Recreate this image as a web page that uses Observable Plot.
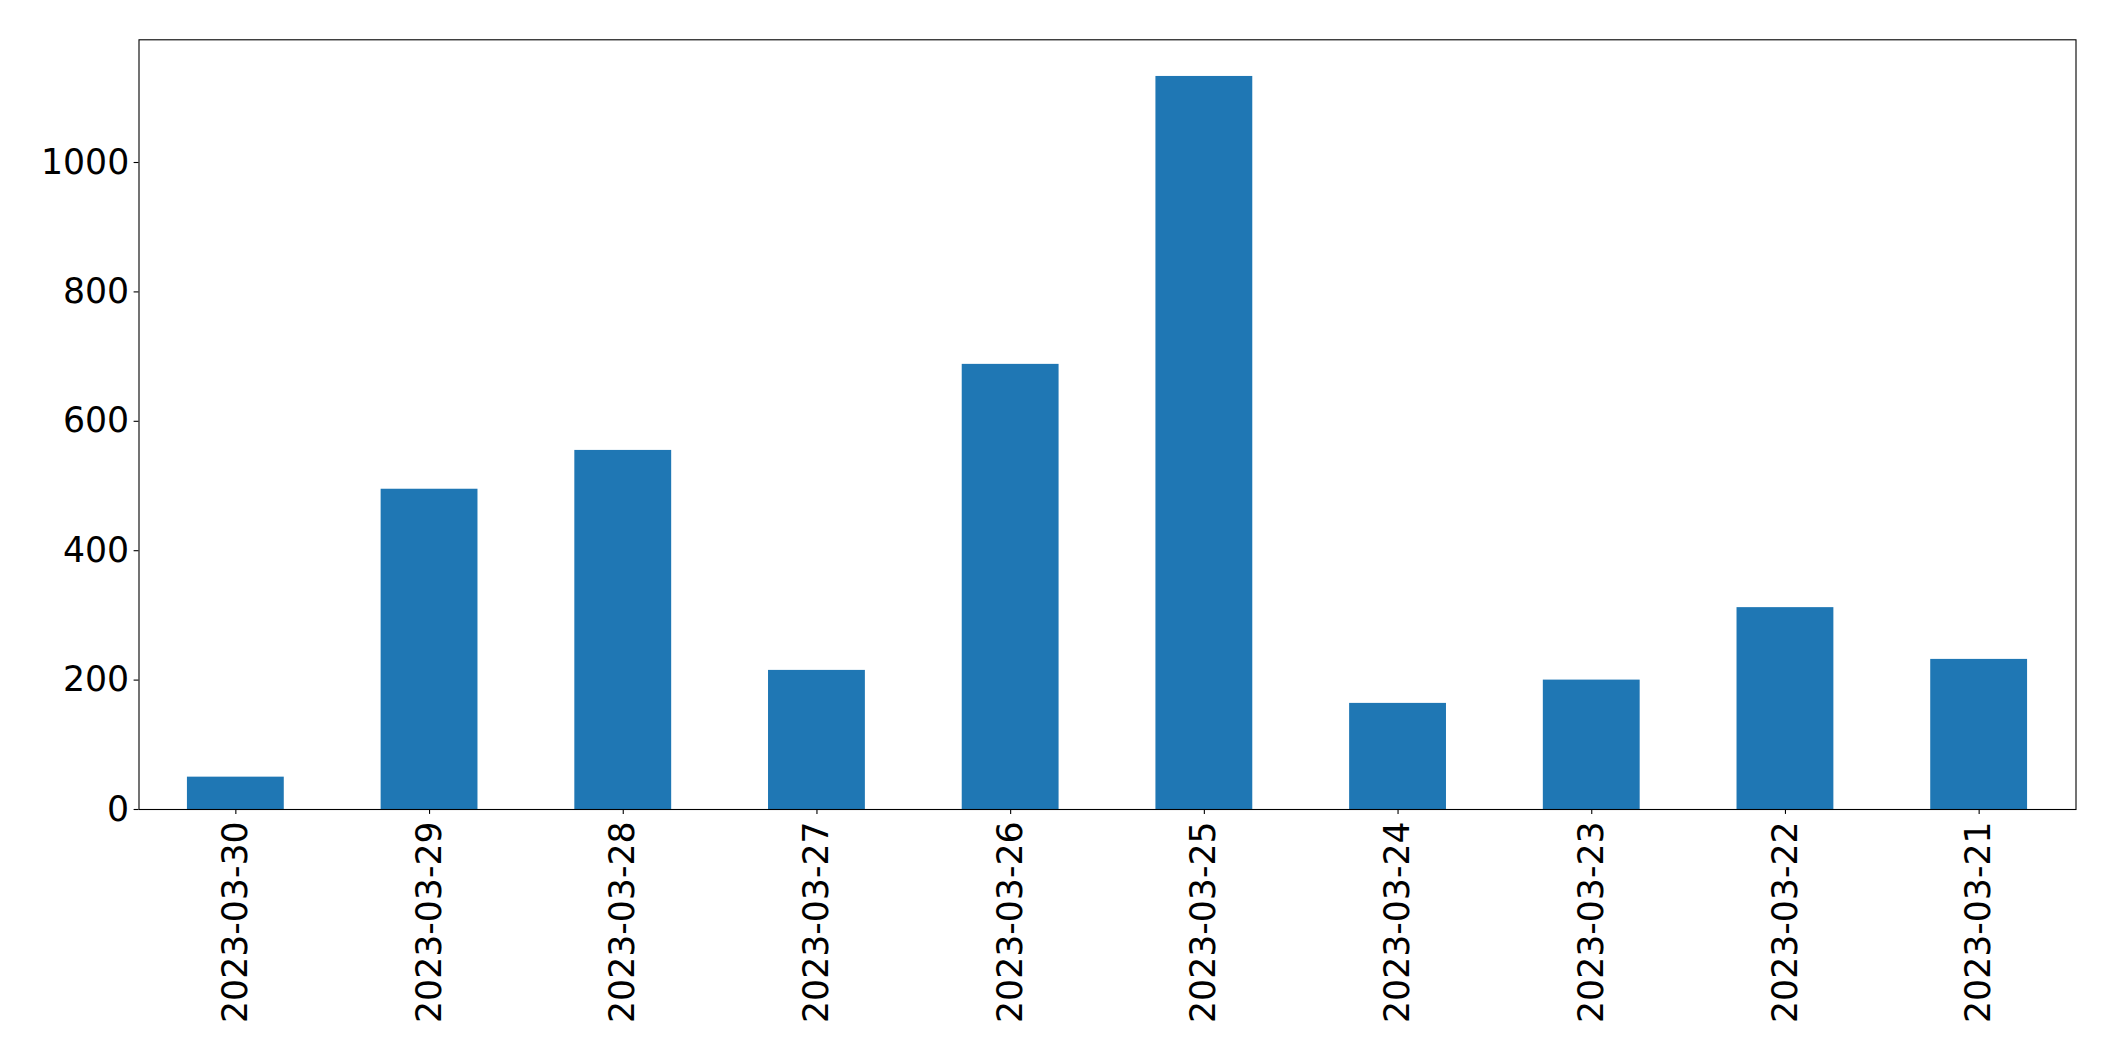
<!DOCTYPE html>
<html>
<head>
<meta charset="utf-8">
<script src="https://cdn.jsdelivr.net/npm/d3@7"></script>
<script src="https://cdn.jsdelivr.net/npm/@observablehq/plot@0.6"></script>
<style>
  html, body { margin: 0; padding: 0; background: #fff; }
  #chart svg { display: block; }
</style>
</head>
<body>
<div id="chart"></div>
<script>
const dates = ["2023-03-30","2023-03-29","2023-03-28","2023-03-27","2023-03-26","2023-03-25","2023-03-24","2023-03-23","2023-03-22","2023-03-21"];
const counts = [50, 495, 555, 215, 688, 1133, 164, 200, 312, 232];
const yTicks = [0, 200, 400, 600, 800, 1000];

const data = dates.map((d, i) => ({date: d, count: counts[i]}));
const yMax = Math.max(...counts) * 1.05;

const chart = Plot.plot({
  width: 2115,
  height: 1061,
  marginLeft: 138.5,
  marginRight: 39.5,
  marginTop: 39.3,
  marginBottom: 252,
  style: {fontFamily: "DejaVu Sans", fontSize: "34.7px", color: "#000", background: "#fff"},
  x: {type: "band", domain: dates, paddingInner: 0.5, paddingOuter: 0.25, align: 0.5, round: false},
  y: {domain: [0, yMax]},
  marks: [
    Plot.barY(data, {x: "date", y: "count", fill: "#1f77b4"}),
    Plot.frame({stroke: "#000", strokeWidth: 1.1}),
    Plot.axisY({ticks: yTicks, tickSize: 4.9, tickPadding: 4.9, tickFormat: d => String(d), label: null, stroke: "#000", strokeWidth: 1.1, fontSize: 34.7}),
    Plot.axisX({tickSize: 4.9, tickPadding: 7, tickRotate: -90, label: null, stroke: "#000", strokeWidth: 1.1, fontSize: 34.7})
  ]
});
document.getElementById("chart").appendChild(chart);
</script>
</body>
</html>
